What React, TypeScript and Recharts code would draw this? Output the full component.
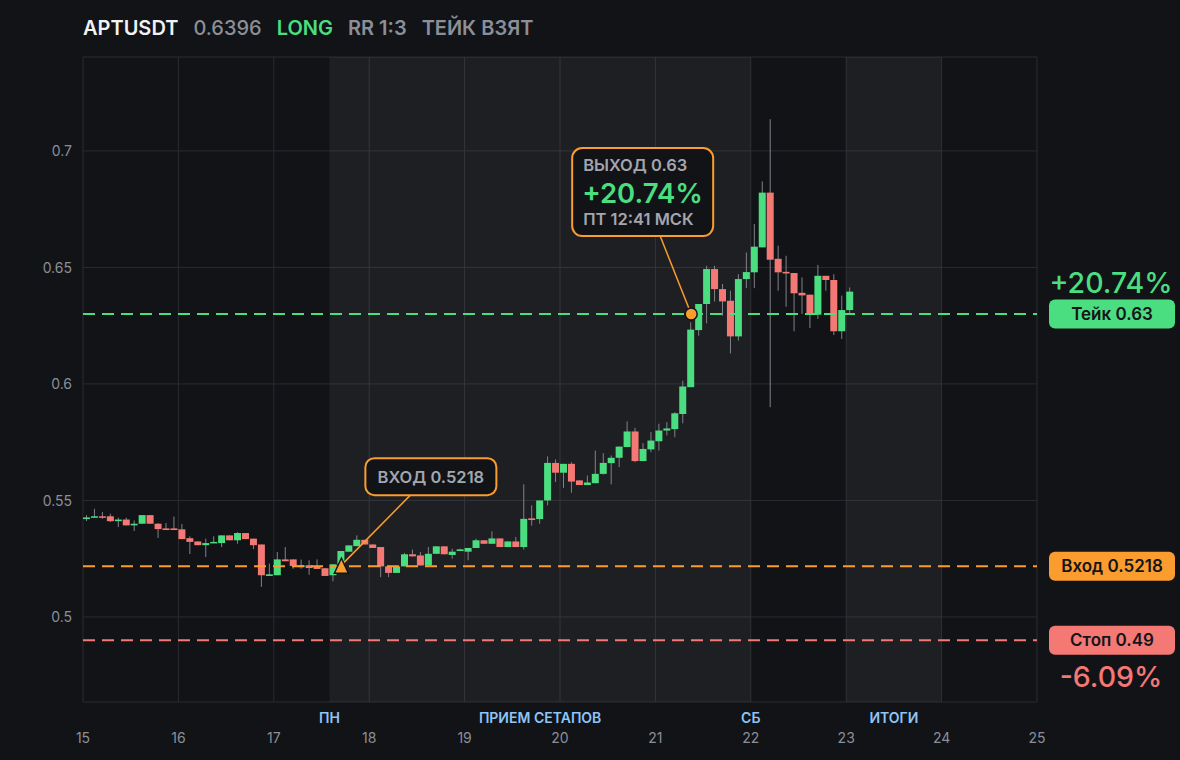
import {
  ComposedChart,
  Bar,
  XAxis,
  YAxis,
  CartesianGrid,
  ReferenceArea,
  ReferenceLine,
  ReferenceDot,
} from 'recharts';

// 2h candles
const OPEN = [
  0.542, 0.5426, 0.5432, 0.5432, 0.5411, 0.5418, 0.5393, 0.54, 0.5437, 0.54,
  0.538, 0.538, 0.5376, 0.5338, 0.5324, 0.5308, 0.5317, 0.5317, 0.535, 0.5329,
  0.536, 0.5336, 0.5311, 0.5176, 0.5179, 0.5247, 0.5247, 0.5214, 0.5222, 0.5217,
  0.5209, 0.5179, 0.5226, 0.528, 0.5304, 0.5331, 0.5311, 0.53, 0.5217, 0.5189,
  0.5217, 0.5269, 0.5264, 0.5221, 0.5271, 0.5303, 0.5266, 0.5283, 0.528, 0.5296,
  0.5329, 0.5314, 0.5337, 0.53, 0.5324, 0.53, 0.5423, 0.542, 0.55, 0.5661,
  0.5619, 0.5657, 0.5586, 0.5566, 0.5574, 0.5614, 0.566, 0.5683, 0.5729, 0.5796,
  0.5669, 0.5719, 0.5754, 0.58, 0.5806, 0.5871, 0.5986, 0.6231, 0.6343, 0.6493,
  0.6407, 0.6357, 0.6204, 0.645, 0.6479, 0.6586, 0.6821, 0.6537, 0.6481, 0.6476,
  0.6391, 0.6383, 0.6297, 0.6464, 0.6446, 0.6226, 0.6317,
];
const HIGH = [
  0.5437, 0.5464, 0.545, 0.5443, 0.5426, 0.5426, 0.5414, 0.5437, 0.5437, 0.5403,
  0.5403, 0.5431, 0.5399, 0.5346, 0.5324, 0.5336, 0.5346, 0.535, 0.535, 0.5364,
  0.536, 0.5336, 0.5311, 0.5229, 0.5279, 0.53, 0.5247, 0.5246, 0.5243, 0.5247,
  0.5209, 0.5226, 0.5283, 0.5307, 0.535, 0.5331, 0.5311, 0.53, 0.5217, 0.5217,
  0.5275, 0.5289, 0.5279, 0.53, 0.5303, 0.5303, 0.5293, 0.5293, 0.5296, 0.5336,
  0.5329, 0.5367, 0.5337, 0.5324, 0.5343, 0.5569, 0.5479, 0.55, 0.5689, 0.5676,
  0.5657, 0.5664, 0.5586, 0.5607, 0.5714, 0.5703, 0.5693, 0.5731, 0.5839, 0.5812,
  0.5746, 0.5793, 0.5829, 0.5836, 0.5879, 0.6014, 0.6264, 0.6343, 0.6507, 0.6507,
  0.6429, 0.64, 0.6471, 0.6564, 0.6686, 0.6869, 0.7136, 0.6593, 0.655, 0.6476,
  0.6457, 0.6383, 0.6511, 0.6464, 0.6471, 0.6379, 0.6414,
];
const LOW = [
  0.5411, 0.5426, 0.5421, 0.5407, 0.5386, 0.5393, 0.5369, 0.54, 0.54, 0.5339,
  0.5373, 0.5373, 0.5334, 0.527, 0.5308, 0.5257, 0.5317, 0.53, 0.5329, 0.5314,
  0.5334, 0.5291, 0.5129, 0.5176, 0.5179, 0.5239, 0.5207, 0.5207, 0.5181, 0.5206,
  0.5176, 0.5153, 0.5186, 0.528, 0.5303, 0.5311, 0.5296, 0.5171, 0.5171, 0.5189,
  0.5217, 0.526, 0.5221, 0.5221, 0.5271, 0.5269, 0.525, 0.5283, 0.5243, 0.5296,
  0.5314, 0.5314, 0.53, 0.53, 0.53, 0.5289, 0.5392, 0.54, 0.5479, 0.5579,
  0.5554, 0.5533, 0.5566, 0.5566, 0.5574, 0.5611, 0.5569, 0.5643, 0.5729, 0.5664,
  0.5669, 0.5707, 0.5714, 0.5779, 0.5771, 0.5831, 0.5986, 0.6207, 0.626, 0.6354,
  0.6293, 0.6131, 0.6186, 0.6411, 0.6411, 0.6586, 0.59, 0.64, 0.6331, 0.6226,
  0.63, 0.624, 0.6279, 0.64, 0.621, 0.6193, 0.6297,
];
const CLOSE = [
  0.5427, 0.5432, 0.5426, 0.5411, 0.5418, 0.5393, 0.54, 0.5437, 0.54, 0.5377,
  0.5373, 0.5373, 0.5334, 0.5322, 0.5308, 0.5317, 0.5322, 0.535, 0.5329, 0.536,
  0.5334, 0.5308, 0.5179, 0.5183, 0.5247, 0.5239, 0.5219, 0.5222, 0.521, 0.5206,
  0.5176, 0.5226, 0.5283, 0.5307, 0.5331, 0.5311, 0.5296, 0.5217, 0.5189, 0.5217,
  0.5269, 0.526, 0.5221, 0.5271, 0.5303, 0.5269, 0.528, 0.529, 0.5296, 0.5329,
  0.5314, 0.5337, 0.53, 0.5324, 0.53, 0.5421, 0.5416, 0.55, 0.5661, 0.5619,
  0.5657, 0.5581, 0.5566, 0.5577, 0.5614, 0.5661, 0.5683, 0.5731, 0.5796, 0.5669,
  0.5721, 0.5757, 0.58, 0.5809, 0.5874, 0.5989, 0.6233, 0.6343, 0.6493, 0.6407,
  0.6354, 0.6204, 0.645, 0.648, 0.6589, 0.6821, 0.6533, 0.6479, 0.6474, 0.6389,
  0.638, 0.6297, 0.6464, 0.6446, 0.6226, 0.6317, 0.6396,
];

const DAY_TICKS = [15, 16, 17, 18, 19, 20, 21, 22, 23, 24, 25];
const PRICE_TICKS = [0.5, 0.55, 0.6, 0.65, 0.7];
const FIRST_DAY = 15;
const CANDLES_PER_DAY = 12;

const TAKE = 0.63;
const ENTRY = 0.5218;
const STOP = 0.49;
const ENTRY_IDX = 32;
const EXIT_IDX = 76;

const SETUP_BAND = [17.5833, 22];
const RESULT_BAND = [23, 24];

const BG = '#121317';
const GREEN = '#4ade80';
const RED = '#f47874';
const ORANGE = '#fb9c2e';
const GRAY = '#8b8f98';
const LABEL_GRAY = '#a2a6ae';
const FONT = 'Inter, "Noto Sans", sans-serif';
const DASH = '12 7';

const candles = OPEN.map((o, i) => ({
  t: FIRST_DAY + (i + 0.5) / CANDLES_PER_DAY,
  o,
  h: HIGH[i],
  l: LOW[i],
  c: CLOSE[i],
}));

const entryT = candles[ENTRY_IDX].t;
const exitT = candles[EXIT_IDX].t;

function Candle(props: any) {
  const { x, y, width, height, payload } = props;
  const { o, h, l, c } = payload;
  const top = Math.min(y, y + height);
  const span = Math.abs(height);
  const k = h > l ? span / (h - l) : 0;
  const yo = top + (h - o) * k;
  const yc = top + (h - c) * k;
  const cx = x + width / 2;
  return (
    <g>
      <line x1={cx} x2={cx} y1={top} y2={top + span} stroke="#80828a" strokeWidth={1} />
      <rect
        x={x}
        y={Math.min(yo, yc)}
        width={width}
        height={Math.max(Math.abs(yc - yo), 1.5)}
        fill={c >= o ? GREEN : RED}
      />
    </g>
  );
}

function XTick({ x, y, payload }: any) {
  return (
    <text x={x} y={y + 35} textAnchor="middle" dominantBaseline="central" fill={GRAY} fontSize={14} fontFamily={FONT}>
      {payload.value}
    </text>
  );
}

function YTick({ x, y, payload }: any) {
  return (
    <text x={x - 11} y={y} textAnchor="end" dominantBaseline="central" fill={GRAY} fontSize={14} fontFamily={FONT}>
      {payload.value}
    </text>
  );
}

const bandText = { fill: '#8ec5f7', fontSize: 14, fontWeight: 600, fontFamily: FONT, textAnchor: 'middle' as const, dominantBaseline: 'central' as const };

function SetupLabels({ viewBox }: any) {
  const { x, y, width, height } = viewBox;
  const ly = y + height + 15;
  return (
    <g>
      <text x={x} y={ly} {...bandText}>ПН</text>
      <text x={x + width / 2} y={ly} {...bandText}>ПРИЕМ СЕТАПОВ</text>
      <text x={x + width} y={ly} {...bandText}>СБ</text>
    </g>
  );
}

function ResultLabel({ viewBox }: any) {
  const { x, y, width, height } = viewBox;
  return <text x={x + width / 2} y={y + height + 15} {...bandText}>ИТОГИ</text>;
}

function PriceTag({ viewBox, text, color, pct, pctDy }: any) {
  const x = viewBox.x + viewBox.width + 12;
  const y = viewBox.y;
  return (
    <g>
      <rect x={x} y={y - 14.5} width={126} height={29} rx={6} fill={color} />
      <text x={x + 63} y={y} textAnchor="middle" dominantBaseline="central" fill="#141519" fontSize={17} fontWeight={600} fontFamily={FONT}>
        {text}
      </text>
      {pct && (
        <text x={x + 62} y={y + pctDy} textAnchor="middle" dominantBaseline="central" fill={color} fontSize={28.5} fontWeight={500} fontFamily={FONT}>
          {pct}
        </text>
      )}
    </g>
  );
}

function EntryMark({ cx, cy }: any) {
  return (
    <g>
      <line x1={cx + 2} y1={cy - 3} x2={cx + 69} y2={cy - 71} stroke={ORANGE} strokeWidth={1.5} />
      <rect x={cx + 24} y={cy - 108} width={131} height={37} rx={9} fill={BG} stroke={ORANGE} strokeWidth={2} />
      <text x={cx + 89.5} y={cy - 89.5} textAnchor="middle" dominantBaseline="central" fill={LABEL_GRAY} fontSize={16.5} fontWeight={600} fontFamily={FONT}>
        ВХОД 0.5218
      </text>
      <path d={`M${cx} ${cy - 8} L${cx + 7} ${cy + 7} L${cx - 7} ${cy + 7} Z`} fill={ORANGE} stroke={BG} strokeWidth={1.5} />
    </g>
  );
}

function ExitMark({ cx, cy }: any) {
  const left = cx - 119;
  const top = cy - 166;
  return (
    <g>
      <line x1={cx - 31} y1={cy - 78} x2={cx} y2={cy} stroke={ORANGE} strokeWidth={1.5} />
      <rect x={left} y={top} width={141} height={88} rx={10} fill={BG} stroke={ORANGE} strokeWidth={2} />
      <text x={left + 11} y={top + 17} dominantBaseline="central" fill={LABEL_GRAY} fontSize={16.5} fontWeight={600} fontFamily={FONT}>
        ВЫХОД 0.63
      </text>
      <text x={left + 10} y={top + 45} dominantBaseline="central" fill={GREEN} fontSize={27.5} fontWeight={600} fontFamily={FONT}>
        +20.74%
      </text>
      <text x={left + 11} y={top + 71} dominantBaseline="central" fill={LABEL_GRAY} fontSize={16.5} fontWeight={600} fontFamily={FONT}>
        ПТ 12:41 МСК
      </text>
      <circle cx={cx} cy={cy} r={6} fill={ORANGE} stroke={BG} strokeWidth={1.5} />
    </g>
  );
}

export default function App() {
  return (
    <div style={{ position: 'fixed', left: 0, top: 0, width: 1180, height: 760, background: BG, overflow: 'hidden', fontFamily: FONT }}>
      <div style={{ position: 'absolute', left: 83, top: 16, height: 24, lineHeight: '24px', display: 'flex', gap: 15, fontSize: 20, fontWeight: 600, whiteSpace: 'nowrap' }}>
        <span style={{ color: '#f1f2f4' }}>APTUSDT</span>
        <span style={{ color: GRAY, fontWeight: 500 }}>0.6396</span>
        <span style={{ color: GREEN }}>LONG</span>
        <span style={{ color: GRAY }}>RR 1:3</span>
        <span style={{ color: GRAY }}>ТЕЙК ВЗЯТ</span>
      </div>
      <ComposedChart width={1180} height={760} data={candles} margin={{ top: 57, right: 143, bottom: 0, left: 0 }}>
        <ReferenceArea x1={SETUP_BAND[0]} x2={SETUP_BAND[1]} fill="#ffffff" fillOpacity={0.05} stroke="none" label={<SetupLabels />} />
        <ReferenceArea x1={RESULT_BAND[0]} x2={RESULT_BAND[1]} fill="#ffffff" fillOpacity={0.05} stroke="none" label={<ResultLabel />} />
        <CartesianGrid stroke="#2a2b30" strokeWidth={1} />
        <XAxis
          dataKey="t"
          type="number"
          domain={[15, 25]}
          ticks={DAY_TICKS}
          allowDataOverflow
          height={58}
          axisLine={false}
          tickLine={false}
          tickSize={0}
          tickMargin={0}
          tick={<XTick />}
        />
        <YAxis
          domain={[0.4635, 0.7403]}
          ticks={PRICE_TICKS}
          allowDataOverflow
          width={83}
          axisLine={false}
          tickLine={false}
          tickSize={0}
          tickMargin={0}
          tick={<YTick />}
        />
        <Bar dataKey={(d: any) => [d.l, d.h]} barSize={7} shape={Candle} isAnimationActive={false} />
        <ReferenceLine y={TAKE} stroke={GREEN} strokeWidth={2} strokeDasharray={DASH}
          label={<PriceTag text="Тейк 0.63" color={GREEN} pct="+20.74%" pctDy={-32} />} />
        <ReferenceLine y={ENTRY} stroke={ORANGE} strokeWidth={2} strokeDasharray={DASH}
          label={<PriceTag text="Вход 0.5218" color={ORANGE} />} />
        <ReferenceLine y={STOP} stroke={RED} strokeWidth={2} strokeDasharray={DASH}
          label={<PriceTag text="Стоп 0.49" color={RED} pct="-6.09%" pctDy={36} />} />
        <ReferenceDot x={entryT} y={ENTRY} r={7} shape={(p: any) => <EntryMark cx={p.cx} cy={p.cy} />} />
        <ReferenceDot x={exitT} y={TAKE} r={6} shape={(p: any) => <ExitMark cx={p.cx} cy={p.cy} />} />
      </ComposedChart>
    </div>
  );
}
